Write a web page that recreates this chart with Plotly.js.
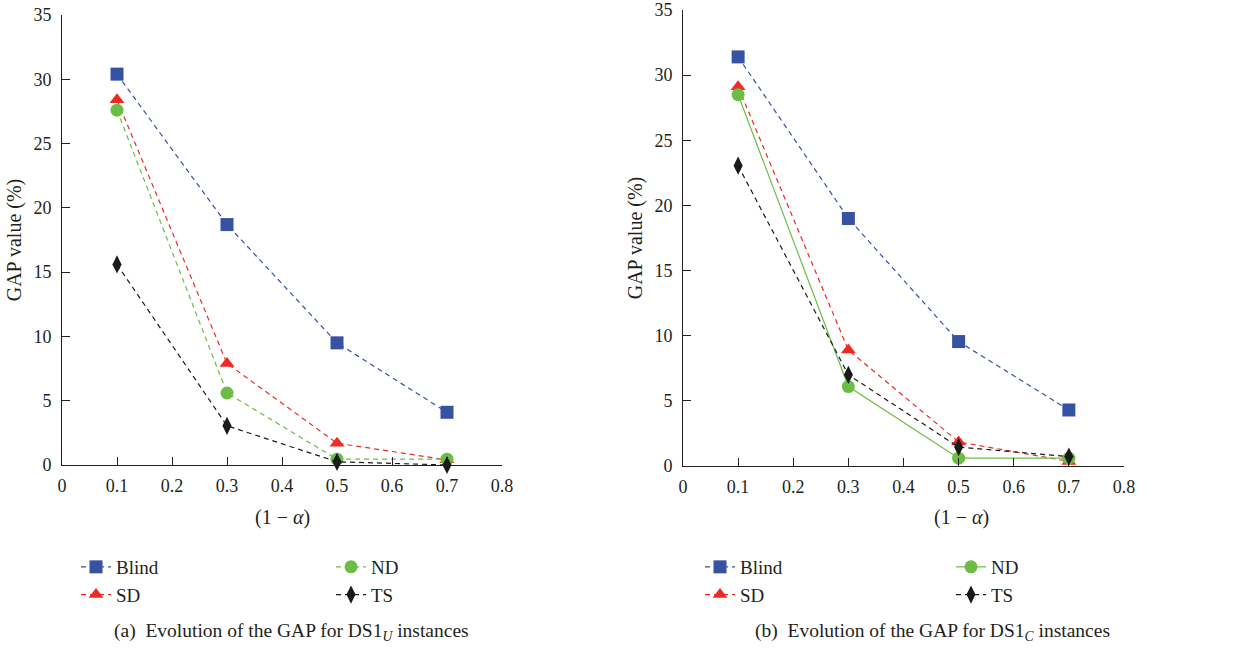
<!DOCTYPE html>
<html>
<head>
<meta charset="utf-8">
<script src="https://cdn.plot.ly/plotly-3.0.1.min.js"></script>
<style>html,body{margin:0;padding:0;background:#fff;}#chart{width:1248px;height:648px;}</style>
</head>
<body>
<div id="chart"></div>
<script>
// ---- data ----
const alphaLevels = [0.1, 0.3, 0.5, 0.7];
const seriesNames = ["Blind", "SD", "ND", "TS"];

// (a) DS1_U instances
const blindU = [30.4, 18.7, 9.5, 4.1];
const sdU    = [28.4, 7.9, 1.7, 0.4];
const ndU    = [27.6, 5.6, 0.45, 0.45];
const tsU    = [15.6, 3.05, 0.25, 0.0];

// (b) DS1_C instances
const blindC = [31.4, 19.0, 9.55, 4.3];
const sdC    = [29.1, 8.9, 1.85, 0.35];
const ndC    = [28.5, 6.1, 0.6, 0.6];
const tsC    = [23.05, 7.0, 1.45, 0.72];

const yTicks = [0, 5, 10, 15, 20, 25, 30, 35];
const xTicks = [0, 0.1, 0.2, 0.3, 0.4, 0.5, 0.6, 0.7, 0.8];

// ---- styles ----
const FONT = "Liberation Serif";
const TXT = "#231f20";
const styles = {
  Blind: {color: "#3751a3", symbol: "square", size: 13},
  SD:    {color: "#ee2a24", symbol: "triangle-up", size: 13},
  ND:    {color: "#6cbd45", symbol: "circle", size: 13},
  TS:    {color: "#1a1a1a", symbol: "diamond-tall", size: 13}
};

function mk(name, ys, xa, ya, legend, dash) {
  const s = styles[name];
  return {
    x: alphaLevels, y: ys, xaxis: xa, yaxis: ya, name: name,
    type: "scatter", mode: "lines+markers", legend: legend,
    cliponaxis: false,
    line: {color: s.color, width: 1.2, dash: dash},
    marker: {color: s.color, symbol: s.symbol, size: s.size}
  };
}
const DASH = "5px,4px";
const traces = [
  mk("Blind", blindU, "x", "y", "legend", DASH),
  mk("SD", sdU, "x", "y", "legend", DASH),
  mk("ND", ndU, "x", "y", "legend2", DASH),
  mk("TS", tsU, "x", "y", "legend2", DASH),
  mk("Blind", blindC, "x2", "y2", "legend3", DASH),
  mk("SD", sdC, "x2", "y2", "legend3", DASH),
  mk("ND", ndC, "x2", "y2", "legend4", "solid"),
  mk("TS", tsC, "x2", "y2", "legend4", DASH)
];

function xAxis(domain, anchor) {
  return {
    domain: domain, anchor: anchor, range: [0, 0.8],
    tickvals: xTicks, ticktext: xTicks.map(String),
    ticks: "inside", ticklen: 8, tickcolor: TXT, tickwidth: 1,
    showline: true, linecolor: TXT, linewidth: 1, mirror: false,
    showgrid: false, zeroline: false, ticklabelstandoff: 4,
    tickfont: {family: FONT, size: 18, color: TXT}
  };
}
function yAxis(domain, anchor) {
  return {
    domain: domain, anchor: anchor, range: [0, 35],
    tickvals: yTicks, ticktext: yTicks.map(String),
    ticks: "inside", ticklen: 8, tickcolor: TXT, tickwidth: 1,
    showline: true, linecolor: TXT, linewidth: 1, mirror: false,
    showgrid: false, zeroline: false, ticklabelstandoff: 6,
    tickfont: {family: FONT, size: 18, color: TXT},
    title: {text: "GAP value (%)", font: {family: FONT, size: 20, color: TXT}, standoff: 6}
  };
}
function legendAt(x) {
  return {
    x: x, y: 1 - 548/648, xanchor: "left", yanchor: "top",
    orientation: "v", bgcolor: "rgba(0,0,0,0)", borderwidth: 0,
    itemwidth: 30, traceorder: "normal", tracegroupgap: 0,
    font: {family: FONT, size: 19, color: TXT}
  };
}

const xTitle = "(1\u00a0−\u00a0<i>α</i>)";
const layout = {
  width: 1248, height: 648,
  margin: {l: 0, r: 0, t: 0, b: 0},
  paper_bgcolor: "#fff", plot_bgcolor: "#fff",
  font: {family: FONT, color: TXT},
  xaxis: xAxis([62/1248, 502/1248], "y"),
  yaxis: yAxis([1 - 465/648, 1 - 15/648], "x"),
  xaxis2: xAxis([683/1248, 1124/1248], "y2"),
  yaxis2: yAxis([1 - 466/648, 1 - 10/648], "x2"),
  legend: legendAt(76/1248),
  legend2: legendAt(331/1248),
  legend3: legendAt(700/1248),
  legend4: legendAt(951/1248),
  annotations: [
    {text: xTitle, x: 282/1248, y: 1 - 517/648, xref: "paper", yref: "paper",
     showarrow: false, xanchor: "center", yanchor: "middle", font: {family: FONT, size: 20, color: TXT}},
    {text: xTitle, x: 961/1248, y: 1 - 517/648, xref: "paper", yref: "paper",
     showarrow: false, xanchor: "center", yanchor: "middle", font: {family: FONT, size: 20, color: TXT}},
    {text: "(a)\u00a0\u00a0Evolution of the GAP for DS1<sub><i>U</i></sub> instances", x: 291/1248, y: 1 - 632/648,
     xref: "paper", yref: "paper", showarrow: false, xanchor: "center", yanchor: "middle",
     font: {family: FONT, size: 19.5, color: TXT}},
    {text: "(b)\u00a0\u00a0Evolution of the GAP for DS1<sub><i>C</i></sub> instances", x: 932/1248, y: 1 - 632/648,
     xref: "paper", yref: "paper", showarrow: false, xanchor: "center", yanchor: "middle",
     font: {family: FONT, size: 19.5, color: TXT}}
  ]
};

Plotly.newPlot("chart", traces, layout, {displayModeBar: false, staticPlot: true});
</script>
</body>
</html>
